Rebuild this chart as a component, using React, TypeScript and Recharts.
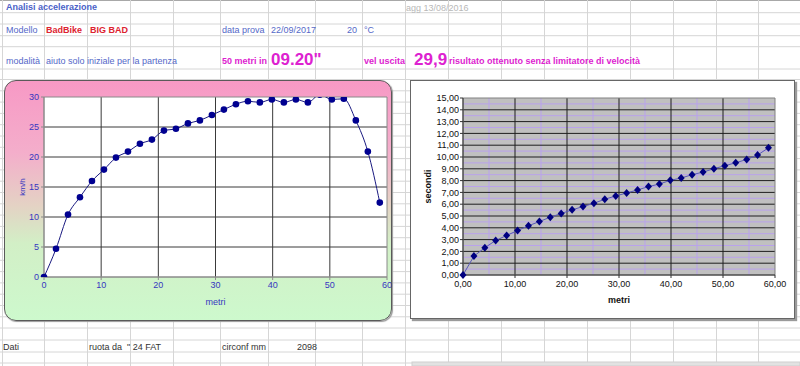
import {
  LineChart,
  Line,
  XAxis,
  YAxis,
  CartesianGrid,
  ReferenceArea,
} from "recharts";

// distanza percorsa ad ogni giro ruota (m)
const metri = [
  0, 2.1, 4.2, 6.29, 8.39, 10.49, 12.59, 14.69, 16.78, 18.88, 20.98, 23.08,
  25.18, 27.27, 29.37, 31.47, 33.57, 35.67, 37.76, 39.86, 41.96, 44.06, 46.16,
  48.25, 50.35, 52.45, 54.55, 56.65, 58.74,
];
// velocità (km/h)
const kmh = [
  0, 4.7, 10.4, 13.3, 16.0, 17.9, 19.9, 20.9, 22.2, 22.9, 24.4, 24.7, 25.6,
  26.1, 27.0, 27.9, 28.8, 29.3, 29.1, 29.6, 29.1, 29.6, 29.1, 30.4, 29.6, 29.7,
  26.1, 20.9, 12.4,
];
// tempo cumulato (s)
const secondi = [
  0, 1.6, 2.31, 2.93, 3.35, 3.77, 4.17, 4.53, 4.9, 5.21, 5.52, 5.8, 6.08, 6.42,
  6.7, 6.95, 7.21, 7.49, 7.71, 8.02, 8.22, 8.5, 8.72, 9.01, 9.26, 9.51, 9.79,
  10.16, 10.78,
];

const distTicks = [0, 10, 20, 30, 40, 50, 60];
const distMinor = [5, 15, 25, 35, 45, 55];
const distInner = [10, 20, 30, 40, 50];
const speedTicks = [0, 5, 10, 15, 20, 25, 30];
const speedInner = [5, 10, 15, 20, 25];
const timeTicks = [0, 1, 2, 3, 4, 5, 6, 7, 8, 9, 10, 11, 12, 13, 14, 15];
const timeInner = [1, 2, 3, 4, 5, 6, 7, 8, 9, 10, 11, 12, 13, 14];
const timeMinor = [
  0.5, 1.5, 2.5, 3.5, 4.5, 5.5, 6.5, 7.5, 8.5, 9.5, 10.5, 11.5, 12.5, 13.5,
  14.5,
];

const speedData = metri.map((m, i) => ({ metri: m, kmh: kmh[i] }));
const timeData = metri.map((m, i) => ({ metri: m, secondi: secondi[i] }));

const FONT = '"Liberation Sans", Arial, sans-serif';
const BLUE = "#5468c8";
const RED = "#dd2230";
const MAGENTA = "#dd22d0";

// griglia del foglio
const colX = [
  2, 44, 87, 130, 173, 220, 268, 315, 362, 405, 448, 501, 544, 587, 630, 673,
  716, 758,
];
const rowY = [
  12.7, 24, 35.7, 46.7, 69, 79.5, 90.8, 102.1, 113.4, 124.7, 136, 147.3, 158.6,
  169.9, 181.2, 192.5, 203.8, 215.1, 226.4, 237.7, 249, 260.3, 271.6, 282.9,
  294.2, 305.5, 316.8, 328, 340, 352, 363,
];

const fmt2 = (v: number) => v.toFixed(2).replace(".", ",");

const renderDiamond = (p: any) => {
  const { cx, cy, index } = p;
  if (cx == null || cy == null) return <g key={`d-${index}`} />;
  return (
    <path
      key={`d-${index}`}
      d={`M${cx},${cy - 4}L${cx + 3.5},${cy}L${cx},${cy + 4}L${cx - 3.5},${cy}Z`}
      fill="#000080"
    />
  );
};

const Txt = ({
  x,
  y,
  right,
  size = 9,
  bold = false,
  color = BLUE,
  family = FONT,
  children,
}: any) => (
  <div
    style={{
      position: "absolute",
      left: right == null ? x : undefined,
      right: right != null ? 800 - right : undefined,
      top: y,
      transform: "translateY(-50%)",
      fontSize: size,
      fontWeight: bold ? "bold" : "normal",
      color,
      fontFamily: family,
      whiteSpace: "nowrap",
      lineHeight: 1,
    }}
  >
    {children}
  </div>
);

const SheetGrid = () => (
  <svg
    width={800}
    height={366}
    style={{ position: "absolute", left: 0, top: 0 }}
  >
    <line x1={0} y1={0.5} x2={800} y2={0.5} stroke="#a8a8a8" />
    {colX.map((x) => (
      <line key={`c${x}`} x1={x + 0.5} y1={0} x2={x + 0.5} y2={366} stroke="#d6d6d6" />
    ))}
    {rowY.map((y) => (
      <line key={`r${y}`} x1={0} y1={y} x2={800} y2={y} stroke="#d6d6d6" />
    ))}
    <rect x={412} y={362} width={388} height={4} fill="#e2e2e2" stroke="#cfcfcf" />
  </svg>
);

export default function App() {
  return (
    <div
      style={{
        position: "absolute",
        left: 0,
        top: 0,
        width: 800,
        height: 366,
        overflow: "hidden",
        background: "#fff",
        fontFamily: FONT,
      }}
    >
      <SheetGrid />

      <Txt x={6} y={7} bold color="#4a62c8">Analisi accelerazione</Txt>
      <Txt x={406} y={8} color="#b8b8b8">agg 13/08/2016</Txt>

      <Txt x={6} y={30}>Modello</Txt>
      <Txt x={46} y={30} bold color={RED}>BadBike</Txt>
      <Txt x={90} y={30} bold color={RED}>BIG BAD</Txt>
      <Txt x={222} y={30}>data prova</Txt>
      <Txt x={271} y={30}>22/09/2017</Txt>
      <Txt right={357} y={30}>20</Txt>
      <Txt x={364} y={30}>°C</Txt>

      <Txt x={6} y={61}>modalità</Txt>
      <Txt x={46} y={61}>aiuto solo iniziale per la partenza</Txt>
      <Txt x={222} y={61} bold color={MAGENTA}>50 metri in</Txt>
      <Txt x={271} y={59} size={17} bold color={MAGENTA}>09.20"</Txt>
      <Txt x={364} y={61} bold color={MAGENTA}>vel uscita</Txt>
      <Txt x={414} y={59} size={17} bold color={MAGENTA}>29,9</Txt>
      <Txt x={449} y={61} bold color={MAGENTA}>
        risultato ottenuto senza limitatore di velocità
      </Txt>

      <Txt x={3} y={347} color="#333" family={'"Liberation Sans Narrow", "Liberation Sans", sans-serif'}>Dati</Txt>
      <Txt x={89} y={347} color="#333" family={'"Liberation Sans Narrow", "Liberation Sans", sans-serif'}>ruota da &nbsp;" 24 FAT</Txt>
      <Txt x={222} y={347} color="#333" family={'"Liberation Sans Narrow", "Liberation Sans", sans-serif'}>circonf mm</Txt>
      <Txt right={317} y={347} color="#333" family={'"Liberation Sans Narrow", "Liberation Sans", sans-serif'}>2098</Txt>

      {/* grafico velocità */}
      <div
        style={{
          position: "absolute",
          left: 4,
          top: 80,
          width: 388,
          height: 241,
          boxSizing: "border-box",
          border: "1.5px solid #5a5a5a",
          borderRadius: 12,
          background:
            "linear-gradient(to bottom, #f799c5 0%, #f4aecb 30%, #e4d2c4 52%, #d2efc6 68%, #cdf9cd 100%)",
          boxShadow: "1px 1px 1px #999",
        }}
      />
      <div style={{ position: "absolute", left: 4, top: 80 }}>
        <LineChart
          width={388}
          height={241}
          data={speedData}
          margin={{ top: 17, right: 5, left: 10, bottom: 14 }}
        >
          <CartesianGrid
            fill="#ffffff"
            stroke="#3a3a3a"
            horizontalValues={speedInner}
            verticalValues={distInner}
          />
          <ReferenceArea
            x1={0}
            x2={60}
            y1={0}
            y2={30}
            fill="none"
            stroke="#8a8a8a"
          />
          <XAxis
            dataKey="metri"
            type="number"
            domain={[0, 60]}
            ticks={distTicks}
            interval={0}
            height={30}
            tickSize={3}
            tickMargin={2}
            stroke="#8a8a8a"
            tick={{ fill: "#3636c0", fontSize: 9 }}
            label={{
              value: "metri",
              position: "insideBottom",
              offset: 2,
              fill: "#3636c0",
              fontSize: 9,
            }}
          />
          <YAxis
            type="number"
            domain={[0, 30]}
            ticks={speedTicks}
            interval={0}
            allowDataOverflow
            width={30}
            tickSize={3}
            tickMargin={2}
            stroke="#8a8a8a"
            tick={{ fill: "#3636c0", fontSize: 9 }}
            label={{
              value: "km/h",
              angle: -90,
              position: "insideLeft",
              offset: 8,
              fill: "#3636c0",
              fontSize: 8,
              style: { textAnchor: "middle" },
            }}
          />
          <Line
            type="monotone"
            dataKey="kmh"
            stroke="#1a1a80"
            strokeWidth={1}
            dot={{ r: 3.3, fill: "#000090", stroke: "#000090", strokeWidth: 0 }}
            activeDot={false}
            isAnimationActive={false}
          />
        </LineChart>
      </div>

      {/* grafico tempi */}
      <div
        style={{
          position: "absolute",
          left: 410,
          top: 80,
          width: 385,
          height: 239,
          boxSizing: "border-box",
          border: "1px solid #666",
          background: "#fff",
          boxShadow: "2px 2px 1px #9a9a9a",
        }}
      />
      <div style={{ position: "absolute", left: 410, top: 80 }}>
        <LineChart
          width={385}
          height={239}
          data={timeData}
          margin={{ top: 18, right: 20, left: 8, bottom: 14 }}
        >
          <CartesianGrid
            fill="#c0c0c0"
            stroke="#b9a2ec"
            horizontalValues={timeMinor}
            verticalValues={distMinor}
          />
          <CartesianGrid
            stroke="#1e1e1e"
            horizontalValues={timeInner}
            verticalValues={distInner}
          />
          <ReferenceArea
            x1={0}
            x2={60}
            y1={0}
            y2={15}
            fill="none"
            stroke="#808080"
          />
          <XAxis
            dataKey="metri"
            type="number"
            domain={[0, 60]}
            ticks={distTicks}
            interval={0}
            height={30}
            tickSize={3}
            tickMargin={3}
            stroke="#333"
            tickFormatter={fmt2}
            tick={{ fill: "#111", fontSize: 9 }}
            label={{
              value: "metri",
              position: "insideBottom",
              offset: 2,
              fill: "#111",
              fontSize: 9,
              fontWeight: "bold",
            }}
          />
          <YAxis
            type="number"
            domain={[0, 15]}
            ticks={timeTicks}
            interval={0}
            width={45}
            tickSize={3}
            tickMargin={1}
            stroke="#333"
            tickFormatter={fmt2}
            tick={{ fill: "#111", fontSize: 9 }}
            label={{
              value: "secondi",
              angle: -90,
              position: "insideLeft",
              offset: 10,
              fill: "#111",
              fontSize: 9,
              fontWeight: "bold",
              style: { textAnchor: "middle" },
            }}
          />
          <Line
            type="linear"
            dataKey="secondi"
            stroke="#5858b8"
            strokeWidth={1}
            dot={renderDiamond}
            activeDot={false}
            isAnimationActive={false}
          />
        </LineChart>
      </div>
    </div>
  );
}
